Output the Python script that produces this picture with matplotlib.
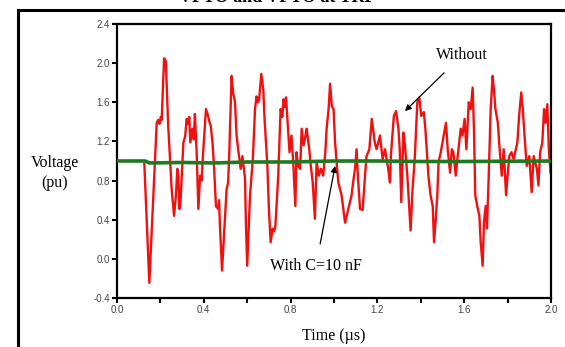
import numpy as np
import matplotlib
matplotlib.use("Agg")
import matplotlib.pyplot as plt
from matplotlib.lines import Line2D

# red trace (without capacitor)
t_without = [0.126, 0.149, 0.183, 0.190, 0.196, 0.202, 0.206, 0.217, 0.225, 0.236,
             0.252, 0.263, 0.272, 0.278, 0.283, 0.287, 0.292, 0.306, 0.314, 0.321,
             0.327, 0.333, 0.338, 0.347, 0.354, 0.359, 0.367, 0.375, 0.383, 0.390,
             0.395, 0.410, 0.420, 0.426, 0.432, 0.440, 0.447, 0.456, 0.466, 0.470,
             0.475, 0.484, 0.505, 0.512, 0.518, 0.528, 0.535, 0.544, 0.551, 0.560,
             0.570, 0.578, 0.590, 0.594, 0.600, 0.613, 0.626, 0.636, 0.643, 0.650,
             0.655, 0.665, 0.674, 0.680, 0.693, 0.700, 0.708, 0.717, 0.725, 0.730,
             0.743, 0.754, 0.762, 0.767, 0.773, 0.779, 0.788, 0.795, 0.804, 0.813,
             0.822, 0.827, 0.835, 0.844, 0.851, 0.860, 0.868, 0.874, 0.886, 0.893,
             0.902, 0.912, 0.920, 0.930, 0.940, 0.950, 0.960, 0.966, 0.975, 0.982,
             0.990, 0.998, 1.005, 1.012, 1.020, 1.035, 1.051, 1.066, 1.081, 1.088,
             1.097, 1.104, 1.110, 1.120, 1.132, 1.143, 1.150, 1.163, 1.174, 1.180,
             1.188, 1.196, 1.212, 1.224, 1.235, 1.250, 1.258, 1.262, 1.276, 1.286,
             1.297, 1.303, 1.310, 1.320, 1.327, 1.338, 1.347, 1.353, 1.362, 1.372,
             1.384, 1.393, 1.402, 1.414, 1.421, 1.435, 1.445, 1.455, 1.461, 1.470,
             1.476, 1.482, 1.492, 1.516, 1.524, 1.535, 1.543, 1.550, 1.561, 1.570,
             1.584, 1.592, 1.602, 1.610, 1.621, 1.630, 1.639, 1.645, 1.651, 1.660,
             1.670, 1.676, 1.685, 1.691, 1.699, 1.705, 1.713, 1.722, 1.731, 1.737,
             1.744, 1.755, 1.762, 1.773, 1.782, 1.793, 1.800, 1.808, 1.818, 1.828,
             1.845, 1.853, 1.863, 1.870, 1.878, 1.888, 1.900, 1.911, 1.920, 1.935,
             1.942, 1.950, 1.960, 1.968, 1.975, 1.983, 1.990, 1.998]
v_without = [0.97, -0.245, 1.39, 1.42, 1.38, 1.45, 1.42, 2.05, 2.02, 1.36,
             0.71, 0.44, 0.66, 0.92, 0.86, 0.51, 0.55, 1.19, 1.25, 1.43,
             1.38, 1.45, 1.19, 1.33, 1.22, 1.48, 1.09, 0.51, 0.85, 0.80,
             1.02, 1.53, 1.46, 1.40, 1.36, 1.19, 0.95, 0.54, 0.51, 0.60,
             0.31, -0.12, 0.71, 0.78, 1.12, 1.87, 1.70, 1.60, 1.26, 1.09,
             0.92, 1.05, 0.82, 0.37, -0.07, 0.65, 1.02, 1.53, 1.66, 1.60,
             1.63, 1.89, 1.73, 1.43, 0.95, 0.51, 0.17, 0.31, 0.28, 0.34,
             0.85, 1.53, 1.45, 1.63, 1.55, 1.65, 1.33, 1.09, 1.26, 0.95,
             0.54, 1.09, 0.95, 0.92, 1.33, 1.16, 1.25, 1.33, 1.12, 0.95,
             0.78, 0.41, 0.99, 0.85, 0.92, 0.85, 1.09, 1.33, 1.53, 1.79,
             1.56, 1.53, 1.19, 0.99, 0.78, 0.65, 0.37, 0.51, 0.65, 0.78,
             0.92, 1.12, 0.85, 0.51, 0.50, 0.85, 1.05, 1.12, 1.43, 1.33,
             1.19, 1.12, 1.26, 1.02, 1.12, 0.92, 0.78, 1.05, 1.46, 1.51,
             1.33, 1.12, 0.58, 1.29, 1.16, 0.85, 0.51, 0.29, 0.71, 1.02,
             1.60, 1.65, 1.46, 1.50, 1.33, 0.85, 0.65, 0.54, 0.17, 0.44,
             0.65, 0.99, 1.09, 1.39, 1.12, 0.88, 1.12, 1.09, 0.85, 1.05,
             1.33, 1.26, 1.43, 1.12, 1.60, 1.53, 1.75, 1.33, 0.65, 0.54,
             0.44, 0.17, -0.07, 0.37, 0.54, 0.31, 0.85, 1.53, 1.87, 1.73,
             1.53, 1.39, 1.16, 0.85, 1.12, 0.65, 0.85, 1.05, 1.09, 1.02,
             1.19, 1.46, 1.70, 1.53, 1.26, 0.95, 1.05, 0.68, 1.05, 0.92,
             0.75, 1.09, 1.19, 1.53, 1.39, 1.58, 1.12, 0.88]

# green trace (with C = 10 nF)
t_with = [0.0, 0.13, 0.15, 0.30, 0.45, 0.60, 0.80, 1.00, 1.20, 1.40, 1.60, 2.0]
v_with = [1.0, 1.0, 0.98, 0.985, 0.98, 0.99, 0.99, 1.0, 1.0, 0.995, 0.995, 1.0]

xticks = [0.0, 0.2, 0.4, 0.6, 0.8, 1.0, 1.2, 1.4, 1.6, 1.8, 2.0]
xlabels = ["0.0", "", "0.4", "", "0.8", "", "1.2", "", "1.6", "", "2.0"]
yticks = [-0.4, 0.0, 0.4, 0.8, 1.2, 1.6, 2.0, 2.4]

serif = "Liberation Serif"

fig = plt.figure(figsize=(5.65, 3.47), dpi=100)
ax = fig.add_axes([117/565, 1-298/347, 434/565, 274/347])

ax.plot(t_without, v_without, color="#f01010", lw=1.7, zorder=2)
ax.plot(t_with, v_with, color="#1f7a1f", lw=2.6, zorder=3)

ax.set_xlim(0, 2.0)
ax.set_ylim(-0.4, 2.4)
ax.set_xticks(xticks)
ax.set_xticklabels(xlabels)
ax.set_yticks(yticks)
ax.set_yticklabels(["%.1f" % y for y in yticks])
for s in ax.spines.values():
    s.set_linewidth(1.6)
ax.tick_params(direction="out", length=3.5, width=1.5, labelsize=7,
               labelcolor="#444444", pad=1.5)
for lab in ax.get_xticklabels() + ax.get_yticklabels():
    lab.set_family("Liberation Sans")

fig.text(55/565, 1-173/347, "Voltage\n(pu)", family=serif, fontsize=11.5,
         ha="center", va="center", linespacing=1.4)
fig.text(334/565, 1-336/347, "Time (\u00b5s)", family=serif, fontsize=11.5,
         ha="center", va="center")

ax.annotate("Without", xy=(1.327, 1.51), xytext=(1.59, 2.08), family=serif,
            fontsize=11.5, ha="center", va="center",
            arrowprops=dict(arrowstyle="-|>", color="black", lw=0.9,
                            shrinkA=7, shrinkB=0, mutation_scale=9))
ax.annotate("With C=10 nF", xy=(1.005, 0.95), xytext=(0.917, -0.07), family=serif,
            fontsize=11.5, ha="center", va="center",
            arrowprops=dict(arrowstyle="-|>", color="black", lw=0.9,
                            shrinkA=8, shrinkB=0, mutation_scale=9))

# cut off title and outer frame of the source page
fig.text(277/565, 1-2.5/347, "VFTO and VFTO at TRF", family=serif, fontsize=13,
         weight="bold", ha="center", va="baseline")
fig.add_artist(Line2D([17.5/565, 17.5/565], [0, 1-10/347], color="black", lw=2.2,
                      transform=fig.transFigure))
fig.add_artist(Line2D([17.5/565, 1], [1-10/347, 1-10/347], color="black", lw=2.2,
                      transform=fig.transFigure))

fig.savefig("out.png", dpi=100)
